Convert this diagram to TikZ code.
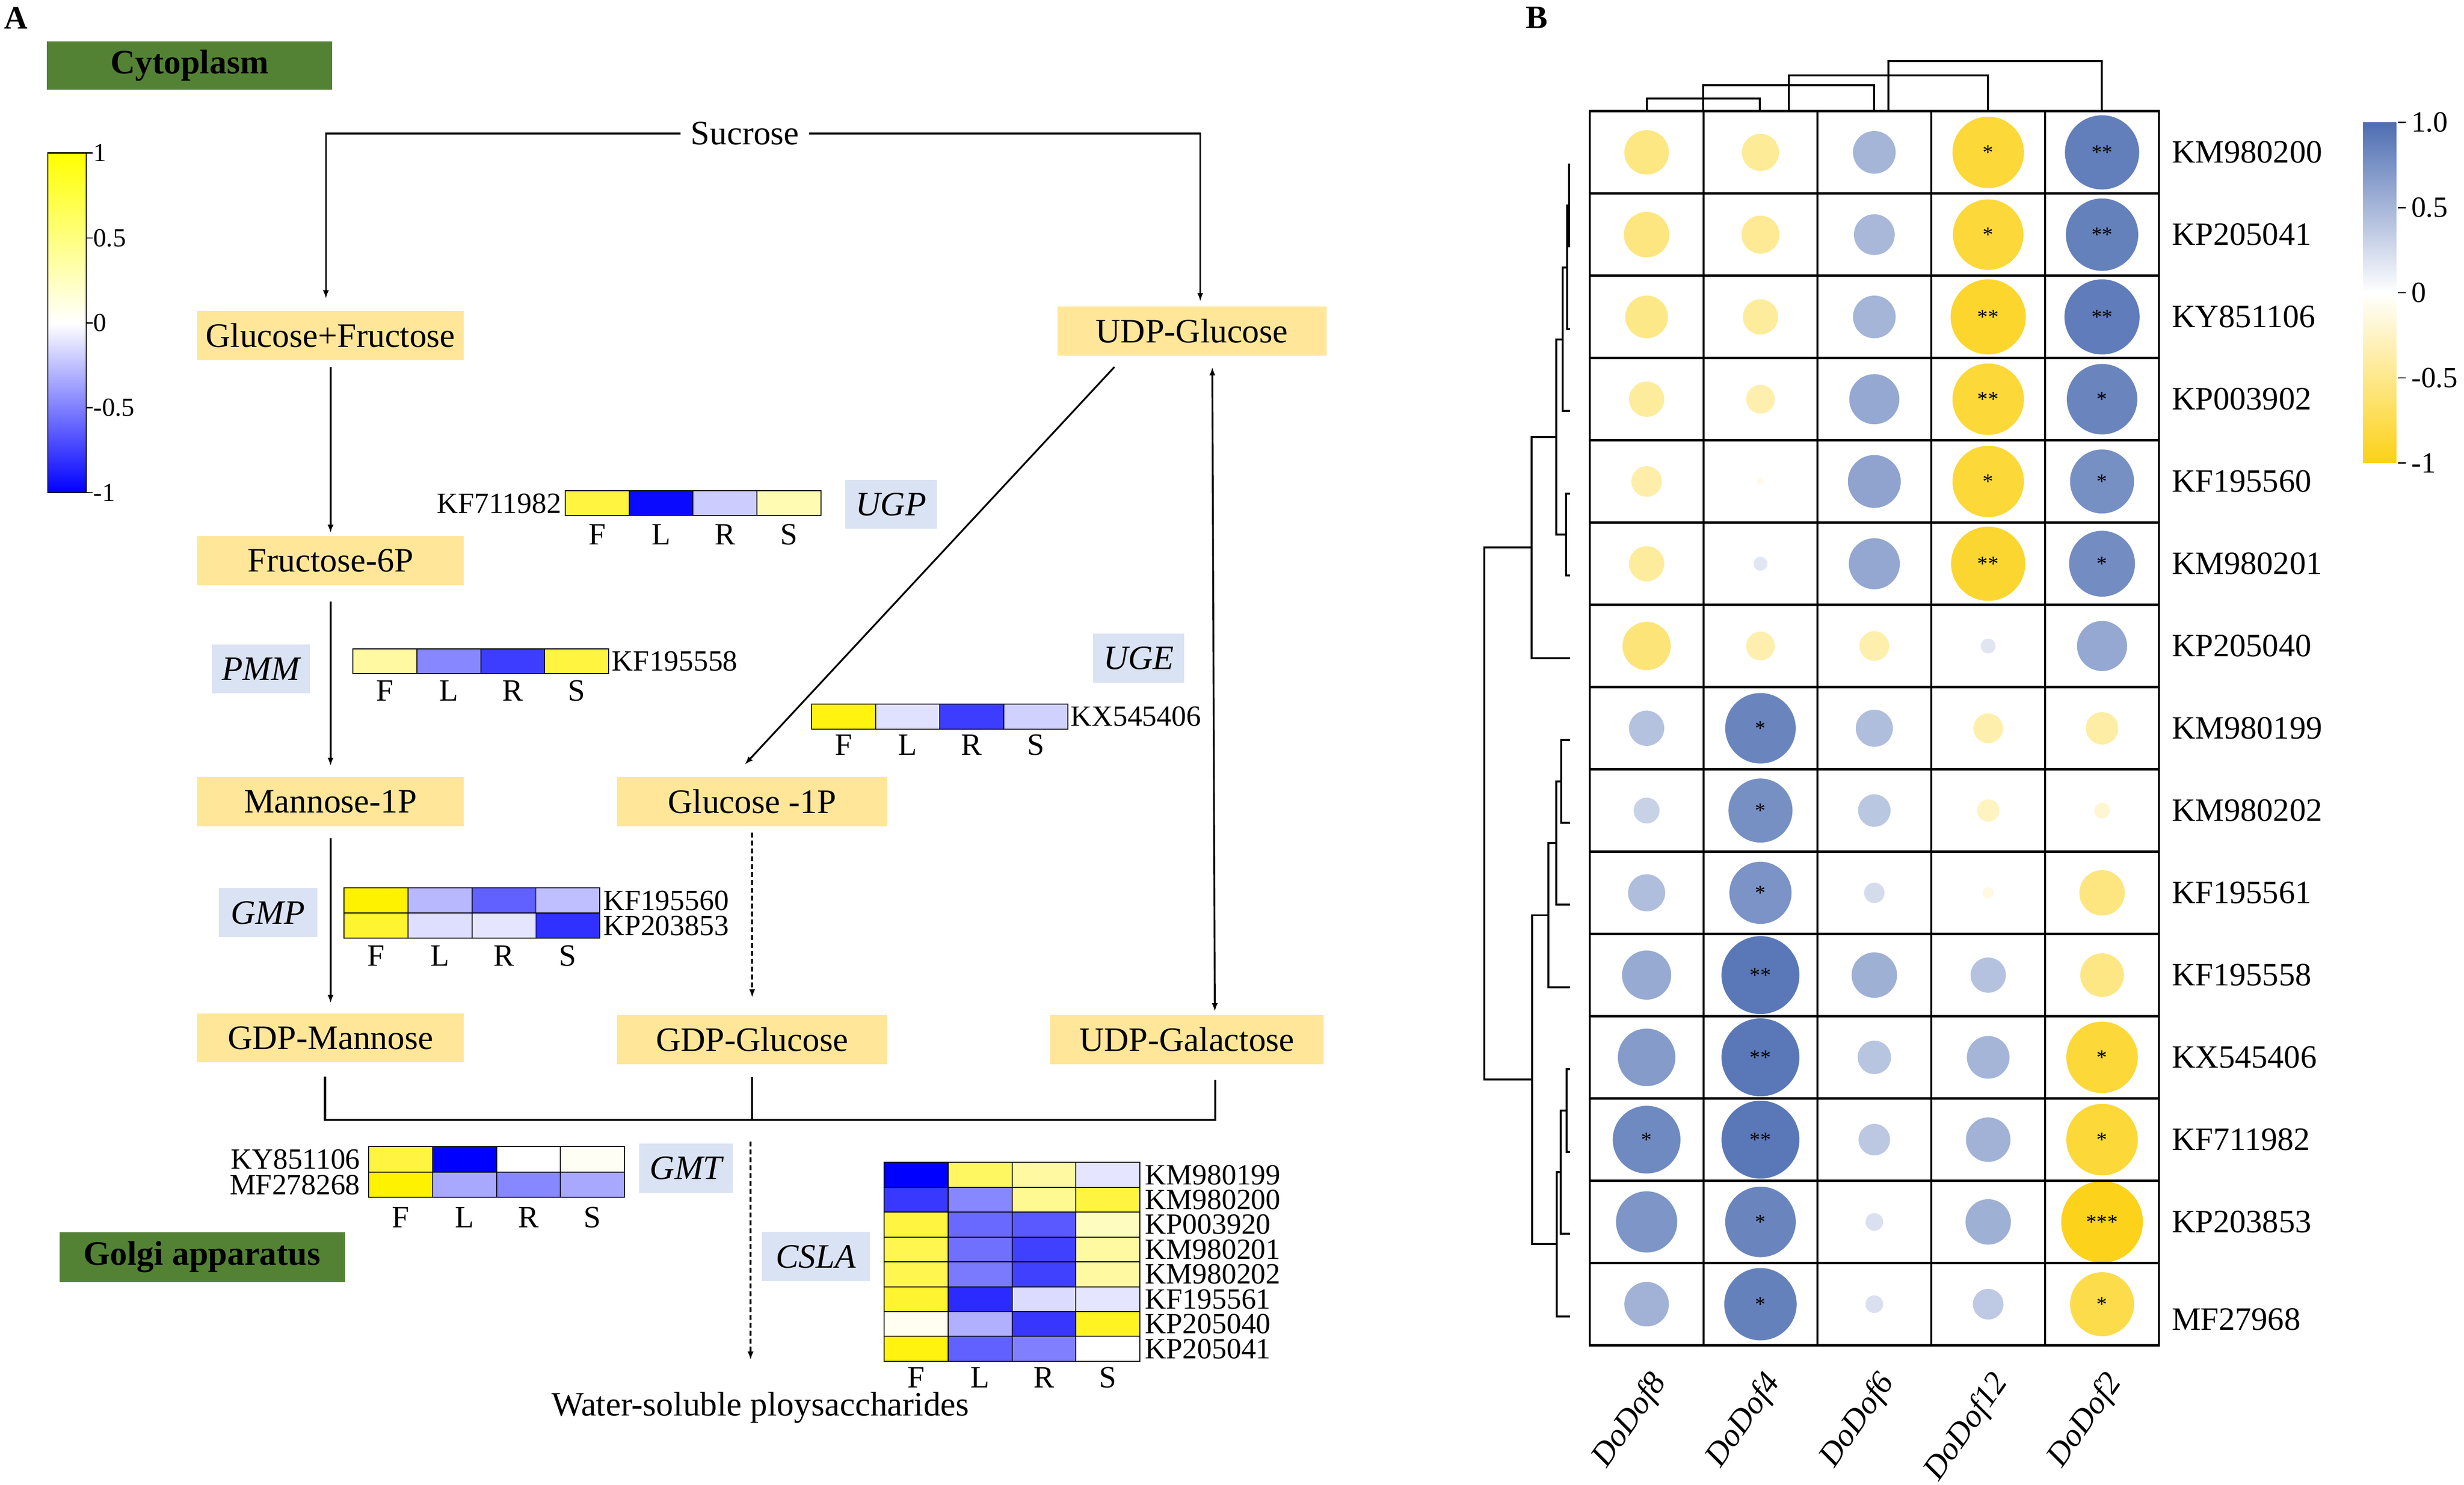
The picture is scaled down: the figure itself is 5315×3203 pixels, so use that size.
\documentclass[tikz,border=0pt]{standalone}
\usepackage{fontspec}
\setmainfont{Liberation Serif}
\usetikzlibrary{arrows.meta,positioning}

\definecolor{metabfill}{HTML}{FFE699}
\definecolor{enzfill}{HTML}{DAE3F3}
\definecolor{regionfill}{HTML}{548235}
\definecolor{corrblue}{HTML}{4E6EB2}
\definecolor{corrgold}{HTML}{FCD116}

% one row of a small heat map: left x, top y, height, four colours
\newcommand{\heatrow}[4]{%
  \foreach \hc [count=\k from 0] in {#4}
    \draw[heatcell, fill=\hc] ({#1+\k*138},#2) rectangle ({#1+(\k+1)*138},{#2+#3});%
}
% F L R S under a heat map: centre of first cell, y, name prefix
\newcommand{\tissues}[3]{%
  \foreach \tiss [count=\k from 0] in {F,L,R,S}
    \node[tissue] (#3\tiss) at ({#1+\k*138},#2) {\tiss};%
}

\tikzset{
  panel/.style={inner sep=0pt, font=\fontsize{20}{24}\selectfont\bfseries},
  region/.style={fill=regionfill, minimum width=6.15cm, minimum height=1.04cm, inner sep=0pt,
    font=\fontsize{21}{25}\selectfont\bfseries},
  metab/.style={fill=metabfill, minimum width=5.75cm, minimum height=1.06cm, inner sep=0pt,
    font=\fontsize{21}{25}\selectfont},
  plain/.style={inner sep=0pt, font=\fontsize{21}{25}\selectfont},
  enzyme/.style={fill=enzfill, minimum width=2.12cm, minimum height=1.06cm, inner sep=0pt,
    font=\fontsize{21}{25}\selectfont\itshape},
  gene/.style={inner sep=1pt, font=\fontsize{18}{20}\selectfont},
  tissue/.style={inner sep=0pt, font=\fontsize{19}{21}\selectfont},
  keylab/.style={inner sep=0pt, font=\fontsize{16}{18}\selectfont},
  heatcell/.style={draw=black, line width=0.6pt},
  flow/.style={line width=1.1pt, -{Latex[length=0.18cm,width=0.13cm]}},
  twoway/.style={line width=1.1pt, {Latex[length=0.18cm,width=0.13cm]}-{Latex[length=0.18cm,width=0.13cm]}},
  dashflow/.style={flow, dash pattern=on 0.11cm off 0.06cm},
  collect/.style={line width=1.3pt},
  cellgrid/.style={line width=1.4pt, line cap=rect},
  dendro/.style={line width=1.2pt},
  rowlab/.style={inner sep=0pt, anchor=west, font=\fontsize{20}{22}\selectfont},
  collab/.style={inner sep=0pt, font=\fontsize{20}{22}\selectfont\itshape},
  stars/.style={inner sep=0pt, font=\fontsize{13}{14}\selectfont}
}

\begin{document}
\begin{tikzpicture}[x=0.01cm, y=-0.01cm]
\useasboundingbox (0,0) rectangle (5315,3203);

% ---------------- A: pathway ----------------
\node[panel] (labA) at (34,39) {A};
\node[region] (cyto) at (409,141) {Cytoplasm};
\node[region, minimum height=1.07cm] (golgi) at (436,2712) {Golgi apparatus};

% colour key of the heat maps
\shade[top color=yellow, bottom color=white] (103,330) rectangle (186,697);
\shade[top color=white, bottom color=blue] (103,697) rectangle (186,1063);
\draw[line width=0.8pt] (103,330) rectangle (186,1063);
\foreach \kv [count=\i] in {1,0.5,0,-0.5,-1}
  \draw[line width=0.8pt] (186,{696.5-366.5*(\kv)}) -- (200,{696.5-366.5*(\kv)})
    node[keylab, anchor=west] (keyA\i) {\kv};

% metabolites
\node[plain, inner xsep=6pt] (sucrose) at (1607,288) {Sucrose};
\node[metab] (glcfru) at (713,724) {Glucose+Fructose};
\node[metab, below=3.78cm of glcfru] (fru6p) {Fructose-6P};
\node[metab, below=4.12cm of fru6p] (man1p) {Mannose-1P};
\node[metab, below=4.02cm of man1p] (gdpman) {GDP-Mannose};
\node[metab, minimum width=5.82cm, right=3.29cm of man1p] (glc1p) {Glucose -1P};
\node[metab, minimum width=5.82cm, below=4.06cm of glc1p] (gdpglc) {GDP-Glucose};
\node[metab, minimum width=5.9cm, right=3.5cm of gdpglc] (udpgal) {UDP-Galactose};
\node[metab, minimum width=5.8cm] (udpglc) at (2571,714) {UDP-Glucose};
\node[plain, anchor=base] (wsp) at (1640,3054) {Water-soluble ploysaccharides};

% enzymes
\node[enzyme] (pmm) at (563,1443) {PMM};
\node[enzyme] (gmp) at (578,1969) {GMP};
\node[enzyme, minimum width=1.98cm] (ugp) at (1922,1088) {UGP};
\node[enzyme, minimum width=1.97cm] (uge) at (2456,1420) {UGE};
\node[enzyme, minimum width=2.02cm] (gmt) at (1480,2520) {GMT};
\node[enzyme, minimum width=2.33cm] (csla) at (1760,2711) {CSLA};

% reactions
\draw[flow, shorten >=0.26cm] (sucrose.west) -| ([xshift=-0.1cm]glcfru.north);
\draw[flow, shorten >=0.1cm] (sucrose.east) -| ([xshift=0.18cm]udpglc.north);
\draw[flow, shorten <=0.14cm, shorten >=0.06cm] (glcfru) -- (fru6p);
\draw[flow, shorten <=0.34cm, shorten >=0.23cm] (fru6p) -- (man1p);
\draw[flow, shorten <=0.25cm, shorten >=0.21cm] (man1p) -- (gdpman);
\draw[flow] ([xshift=-1.67cm,yshift=-0.24cm]udpglc.south) -- ([xshift=-0.16cm,yshift=0.26cm]glc1p.north);
\draw[dashflow, shorten <=0.13cm, shorten >=0.37cm] (glc1p) -- (gdpglc);
\draw[twoway] ([xshift=0.44cm,yshift=-0.24cm]udpglc.south) -- ([xshift=0.6cm,yshift=0.07cm]udpgal.north);

\coordinate (merge) at (1619,2416);
\draw[collect] ([xshift=-0.12cm,yshift=-0.3cm]gdpman.south) |- (merge)
  -| ([xshift=0.61cm,yshift=-0.33cm]udpgal.south);
\draw[collect] ([yshift=-0.27cm]gdpglc.south) -- (gdpglc.south |- merge);
\draw[dashflow, shorten >=0.68cm] ([yshift=-0.47cm]merge) -- (merge |- wsp.north);

% UGP
\heatrow{1219}{1059}{53}{yellow!75!white,blue!96!white,blue!20!white,yellow!30!white}
\node[gene, anchor=east] (kf711982) at (1215,1086) {KF711982};
\tissues{1288}{1153}{ugp}

% PMM
\heatrow{761}{1400}{53}{yellow!37!white,blue!47!white,blue!76!white,yellow!75!white}
\node[gene, anchor=west] (kf195558) at (1316,1427) {KF195558};
\tissues{830}{1490}{pmm}

% GMP
\heatrow{742}{1916}{54}{yellow,blue!28!white,blue!62!white,blue!25!white}
\heatrow{742}{1970}{54}{yellow!81!white,blue!13!white,blue!10!white,blue!81!white}
\node[gene, anchor=west] (kf195560) at (1297,1943) {KF195560};
\node[gene, anchor=west] (kp203853) at (1297,1997) {KP203853};
\tissues{811}{2062}{gmp}

% UGE
\heatrow{1751}{1519}{54}{yellow!94!white,blue!12!white,blue!76!white,blue!18!white}
\node[gene, anchor=west] (kx545406) at (2305,1546) {KX545406};
\tissues{1820}{1607}{uge}

% GMT
\heatrow{795}{2474}{54.5}{yellow!75!white,blue,white,yellow!4!white}
\heatrow{795}{2528.5}{54.5}{yellow,blue!34!white,blue!47!white,blue!34!white}
\node[gene, anchor=east] (ky851106) at (781,2501) {KY851106};
\node[gene, anchor=east] (mf278268) at (781,2556) {MF278268};
\tissues{864}{2627}{gmt}

% CSLA
\heatrow{1907}{2508}{53.6}{blue,yellow!62!white,yellow!37!white,blue!10!white}
\heatrow{1907}{2561.6}{53.6}{blue!78!white,blue!47!white,yellow!43!white,yellow!75!white}
\heatrow{1907}{2615.2}{53.6}{yellow!75!white,blue!59!white,blue!65!white,yellow!25!white}
\heatrow{1907}{2668.8}{53.6}{yellow!69!white,blue!56!white,blue!75!white,yellow!37!white}
\heatrow{1907}{2722.4}{53.6}{yellow!69!white,blue!52!white,blue!75!white,yellow!37!white}
\heatrow{1907}{2776}{53.6}{yellow!81!white,blue!83!white,blue!14!white,blue!10!white}
\heatrow{1907}{2829.6}{53.6}{yellow!6!white,blue!31!white,blue!79!white,yellow!87!white}
\heatrow{1907}{2883.2}{53.6}{yellow!94!white,blue!62!white,blue!50!white,white}
\foreach \g [count=\i from 0] in {KM980199,KM980200,KP003920,KM980201,KM980202,KF195561,KP205040,KP205041}
  \node[gene, anchor=west] (csla\i) at (2466,{2534.8+53.6*\i}) {\g};
\tissues{1976}{2972}{csla}

% ---------------- B: correlation with DoDofs ----------------
\node[panel] (labB) at (3315,38) {B};

% circles: signed size, blue for positive, gold for negative
\foreach \row [count=\i from 0] in {
  {-48,-40,46,-77,80},
  {-49,-41,44,-76,78},
  {-46,-38,46,-81,81},
  {-38,-31,54,-77,76},
  {-33,-8,57,-77,69},
  {-38,15,55,-80,71},
  {-52,-31,-32,16,54},
  {38,76,40,-32,-35},
  {28,69,35,-24,-17},
  {40,67,22,-12,-49},
  {53,84,49,38,-47},
  {62,84,36,46,-77},
  {73,84,34,48,-77},
  {66,76,19,49,-88},
  {48,78,19,33,-69}}{
  \foreach \rv [count=\j from 0] in \row {
    \pgfmathsetmacro\tint{min(100,abs(\rv)/0.9)}
    \pgfmathsetmacro\rad{abs(\rv)/100}
    \ifdim \rv pt>0pt \def\hue{corrblue}\else\def\hue{corrgold}\fi
    \fill[\hue!\tint!white] ({3551.8+245.6*\j},{328.75+177.5*\i}) circle[radius=\rad cm];
  }
}
\foreach \j/\i/\sig in {3/0/*,4/0/**,3/1/*,4/1/**,3/2/**,4/2/**,3/3/**,4/3/*,3/4/*,4/4/*,
  3/5/**,4/5/*,1/7/*,1/8/*,1/9/*,1/10/**,1/11/**,4/11/*,0/12/*,1/12/**,4/12/*,
  1/13/*,4/13/***,1/14/*,4/14/*}
  \node[stars] (star\j-\i) at ({3551.8+245.6*\j},{328.75+177.5*\i}) {\sig};

% grid
\foreach \j in {0,...,5}
  \draw[cellgrid] ({3429+245.6*\j},240) -- ({3429+245.6*\j},2902.5);
\foreach \i in {0,...,15}
  \draw[cellgrid] (3429,{240+177.5*\i}) -- (4657,{240+177.5*\i});

% dendrogram of the DoDofs
\foreach \xa/\yn/\xb in {3552/213/3796,3674/184/4043,3859/163/4288,4073/132/4534}
  \draw[dendro] (\xa,240) |- (\xb,\yn) -- (\xb,240);

% dendrogram of the genes
\foreach \xa/\ya/\xn/\xb/\yb in {
  3387/355/3385/3387/532, 3385/443.5/3380/3387/710, 3380/576.75/3371/3387/887,
  3387/1065/3378/3387/1242, 3371/731.9/3357/3378/1153.5, 3357/942.7/3304/3387/1420,
  3387/1597/3368/3387/1775, 3368/1686/3357/3387/1952, 3357/1819/3340/3387/2130,
  3387/2307/3379/3387/2485, 3379/2396/3366/3387/2662, 3366/2529/3358/3387/2840,
  3340/1974.5/3305/3358/2684.5, 3304/1181.4/3202/3305/2329.5}
  \draw[dendro] (\xa,\ya) -| (\xn,\yb) -- (\xb,\yb);

% gene and DoDof labels
\foreach \g [count=\i from 0] in {KM980200,KP205041,KY851106,KP003902,KF195560,KM980201,KP205040,
  KM980199,KM980202,KF195561,KF195558,KX545406,KF711982,KP203853}
  \node[rowlab] (gene\i) at (4684,{328.75+177.5*\i}) {\g};
\node[rowlab] (gene14) at (4684,2846) {MF27968};
\foreach \dname [count=\j from 0] in {DoDof8,DoDof4,DoDof6,DoDof12,DoDof2}
  \node[collab, rotate=55, anchor=east] (dof\j) at ({3581.8+245.6*\j},2972) {\dname};

% colour key of the correlations
\shade[top color=corrblue, bottom color=white] (5097,264) rectangle (5169,631.5);
\shade[top color=white, bottom color=corrgold] (5097,631.5) rectangle (5169,999);
\foreach \kv [count=\i] in {1.0,0.5,0,-0.5,-1}
  \draw[line width=0.8pt] (5172,{631.5-367.5*(\kv)}) -- (5190,{631.5-367.5*(\kv)})
    node[keylab, anchor=west, font=\fontsize{18}{20}\selectfont, xshift=0.1cm] (keyB\i) {\kv};

\end{tikzpicture}
\end{document}
